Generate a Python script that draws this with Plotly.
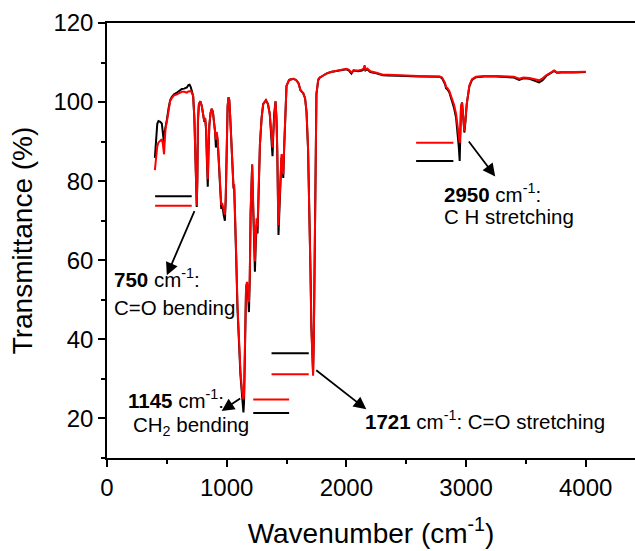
import plotly.graph_objects as go

# ---------------- data ----------------
wavenumber = [400, 410, 420, 430, 445, 458, 466, 472, 477, 482, 490, 500, 515, 528, 541, 560, 580, 600, 625, 645,
              667, 680, 690, 700, 710, 720, 730, 738, 744, 750, 755, 760, 768, 780, 792, 805, 813, 820, 828, 835,
              842, 848, 855, 865, 875, 885, 895, 903, 910, 917, 925, 935, 945, 955, 962, 968, 975, 985, 992, 1000,
              1008, 1015, 1022, 1030, 1040, 1050, 1057, 1063, 1070, 1080, 1090, 1100, 1115, 1128, 1135, 1140, 1145, 1150, 1156, 1162,
              1170, 1178, 1186, 1193, 1200, 1207, 1213, 1220, 1228, 1236, 1243, 1250, 1258, 1265, 1278, 1292, 1305, 1328, 1345, 1360,
              1370, 1378, 1383, 1390, 1397, 1408, 1416, 1423, 1429, 1433, 1440, 1450, 1458, 1463, 1468, 1473, 1480, 1487, 1500, 1522,
              1556, 1580, 1600, 1617, 1640, 1655, 1667, 1680, 1689, 1700, 1708, 1715, 1722, 1728, 1736, 1743, 1750, 1765, 1778, 1800,
              1833, 1870, 1900, 1950, 2000, 2020, 2042, 2060, 2100, 2130, 2145, 2153, 2160, 2175, 2200, 2250, 2305, 2350, 2400, 2500,
              2600, 2700, 2780, 2800, 2815, 2825, 2833, 2845, 2860, 2880, 2900, 2917, 2930, 2940, 2947, 2952, 2958, 2967, 2975, 2986,
              2995, 3006, 3028, 3050, 3083, 3150, 3250, 3350, 3400, 3444, 3480, 3530, 3580, 3611, 3640, 3670, 3700, 3736, 3760, 3800,
              3900, 4000]

t_black = [85.9, 90.5, 94.5, 95.2, 95.0, 94.6, 92.5, 90.0, 89.5, 92.5, 94.5, 95.5, 98.5, 100.5, 101.3, 102.0, 102.3, 102.8, 103.3, 103.4,
           103.7, 104.3, 104.4, 103.8, 102.8, 101.5, 96.0, 88.0, 80.0, 73.5, 80.0, 95.0, 99.5, 100.2, 99.0, 95.8, 95.0, 95.8, 93.0, 85.0,
           78.6, 87.0, 94.0, 97.2, 98.3, 97.5, 95.0, 92.5, 88.5, 92.0, 90.0, 84.0, 77.0, 73.0, 73.5, 73.0, 71.5, 70.0, 75.0, 90.0,
           99.0, 101.2, 100.5, 96.0, 88.0, 80.0, 78.3, 78.0, 72.0, 60.0, 48.0, 40.0, 31.0, 26.0, 23.0, 21.5, 24.0, 35.0, 48.0, 53.0,
           54.0, 52.0, 46.9, 55.0, 72.0, 82.0, 84.2, 75.0, 63.0, 57.1, 64.0, 69.0, 66.8, 75.0, 89.3, 96.0, 99.5, 100.5, 99.5, 97.0,
           93.0, 89.0, 86.3, 92.0, 97.0, 100.2, 96.0, 87.0, 72.0, 66.4, 72.0, 80.5, 86.0, 85.5, 82.0, 80.8, 88.0, 96.0, 104.1, 105.6,
           105.9, 105.6, 104.8, 103.0, 102.2, 101.0, 97.5, 88.0, 77.0, 58.0, 43.0, 34.0, 31.5, 40.0, 68.0, 92.0, 102.0, 105.5, 106.2, 106.6,
           107.2, 107.6, 107.8, 108.0, 108.3, 108.0, 107.2, 108.0, 107.8, 108.0, 108.3, 109.0, 108.0, 108.3, 107.6, 107.3, 106.8, 106.7, 106.7, 106.6,
           106.5, 106.5, 106.4, 106.0, 105.0, 104.5, 103.5, 103.2, 102.5, 100.5, 98.5, 96.0, 92.5, 88.5, 85.1, 90.0, 98.5, 99.9, 97.0, 92.3,
           95.0, 99.5, 104.0, 105.6, 106.3, 106.5, 106.5, 106.4, 106.2, 105.6, 106.0, 105.9, 105.3, 105.0, 105.5, 106.6, 107.2, 107.9, 107.4, 107.5,
           107.5, 107.6]

t_red = [82.8, 86.5, 88.8, 89.8, 90.3, 90.6, 89.5, 87.5, 86.8, 90.0, 93.5, 95.0, 98.2, 100.3, 101.0, 101.7, 101.9, 102.2, 102.6, 102.6,
         102.4, 102.7, 102.8, 102.8, 102.3, 101.5, 96.0, 88.0, 80.0, 73.8, 81.0, 96.0, 99.5, 100.2, 99.0, 95.8, 95.2, 96.0, 93.5, 86.0,
         80.5, 88.0, 94.0, 97.2, 98.3, 97.5, 95.0, 93.0, 90.5, 92.5, 90.5, 85.0, 78.0, 74.0, 74.5, 73.5, 72.5, 71.5, 76.0, 90.0,
         99.0, 101.2, 100.5, 96.0, 88.0, 80.5, 78.5, 79.2, 73.0, 61.0, 49.0, 41.0, 32.0, 27.0, 25.0, 24.8, 26.0, 36.0, 49.0, 53.5,
         54.5, 53.0, 49.4, 56.0, 72.0, 82.0, 84.2, 76.0, 65.0, 59.7, 66.0, 70.6, 68.5, 76.0, 89.3, 96.0, 99.5, 100.5, 99.5, 97.0,
         94.0, 90.5, 88.5, 93.0, 97.0, 100.2, 96.0, 88.0, 74.0, 68.9, 74.0, 81.5, 86.8, 86.5, 83.0, 81.7, 88.5, 96.0, 104.1, 105.6,
         105.9, 105.6, 104.8, 103.0, 102.2, 101.0, 97.8, 88.5, 76.6, 57.0, 42.6, 33.0, 30.8, 40.0, 68.0, 92.0, 102.0, 105.8, 106.2, 106.6,
         107.2, 107.6, 107.8, 108.2, 108.4, 108.2, 107.5, 108.0, 108.0, 108.2, 108.5, 109.3, 108.2, 108.5, 107.8, 107.4, 106.9, 106.9, 106.8, 106.7,
         106.6, 106.6, 106.5, 106.2, 105.3, 104.8, 103.8, 103.5, 102.8, 101.0, 99.3, 97.0, 93.8, 90.5, 89.7, 92.0, 99.0, 99.9, 97.0, 92.7,
         95.5, 99.5, 104.2, 105.8, 106.4, 106.6, 106.6, 106.5, 106.4, 105.9, 106.2, 106.1, 105.8, 105.5, 106.0, 106.8, 107.3, 108.0, 107.5, 107.6,
         107.6, 107.7]

# peak annotations: label lines, arrow tail/head, marker bars
peak_labels = [
    ["<b>750</b> cm<sup>-1</sup>:", "C=O bending"],
    ["<b>1145</b> cm<sup>-1</sup>:", "CH<sub>2</sub> bending"],
    ["<b>1721</b> cm<sup>-1</sup>: C=O stretching"],
    ["<b>2950</b> cm<sup>-1</sup>:", "C H stretching"],
]
label_x = [[38, 38], [158, 200], [2140], [2796, 2796]]
label_y = [[55.5, 48.0], [24.8, 18.0], [19.6], [77.0, 71.0]]
arrow_tail_x = [736, 1125, 1736, 3014]
arrow_tail_y = [72.8, 25.3, 32.5, 90.4]
arrow_head_x = [500, 958, 2167, 3244]
arrow_head_y = [56.2, 21.9, 22.3, 81.2]
bar_x0 = [402, 1222, 1375, 2583]
bar_x1 = [708, 1522, 1686, 2894]
bar_black_y = [76.2, 21.4, 36.5, 85.1]
bar_red_y = [73.8, 24.8, 31.2, 89.7]

FONT = "Liberation Sans, Arial, sans-serif"

fig = go.Figure()
fig.add_trace(go.Scatter(x=wavenumber, y=t_black, mode="lines",
                         line=dict(color="#000000", width=2), showlegend=False))
fig.add_trace(go.Scatter(x=wavenumber, y=t_red, mode="lines",
                         line=dict(color="#ff0000", width=2), showlegend=False))

annotations = []
for texts, xs, ys in zip(peak_labels, label_x, label_y):
    for t, x, y in zip(texts, xs, ys):
        annotations.append(dict(x=x, y=y, xref="x", yref="y", text=t, showarrow=False,
                                xanchor="left", yanchor="middle",
                                font=dict(family=FONT, size=20.5, color="#000")))
for tx, ty, hx, hy in zip(arrow_tail_x, arrow_tail_y, arrow_head_x, arrow_head_y):
    annotations.append(dict(x=hx, y=hy, ax=tx, ay=ty, xref="x", yref="y", axref="x", ayref="y",
                            text="", showarrow=True, arrowhead=2, arrowsize=1.4, arrowwidth=1.8,
                            arrowcolor="#000", standoff=0, startstandoff=0))

shapes = []
for x0, x1, yb, yr in zip(bar_x0, bar_x1, bar_black_y, bar_red_y):
    shapes.append(dict(type="line", xref="x", yref="y", x0=x0, x1=x1, y0=yb, y1=yb,
                       line=dict(color="#000", width=2)))
    shapes.append(dict(type="line", xref="x", yref="y", x0=x0, x1=x1, y0=yr, y1=yr,
                       line=dict(color="#ff0000", width=2)))

fig.update_layout(
    width=635, height=551,
    margin=dict(l=107, r=0, t=23, b=93, autoexpand=False),
    paper_bgcolor="white", plot_bgcolor="white",
    font=dict(family=FONT, color="#000"),
    annotations=annotations, shapes=shapes,
    xaxis=dict(range=[0, 4412], tickvals=[0, 1000, 2000, 3000, 4000],
               ticks="outside", ticklen=7, tickwidth=1.5, tickcolor="#000",
               minor=dict(dtick=500, tick0=0, ticks="outside", ticklen=4, tickwidth=1.5, tickcolor="#000"),
               showline=True, linecolor="#000", linewidth=1.5, mirror=True,
               showgrid=False, zeroline=False,
               tickfont=dict(family=FONT, size=24),
               title=dict(text="Wavenumber (cm<sup>-1</sup>)", font=dict(family=FONT, size=28), standoff=24)),
    yaxis=dict(range=[10, 120], tickvals=[20, 40, 60, 80, 100, 120],
               ticks="outside", ticklen=7, tickwidth=1.5, tickcolor="#000",
               minor=dict(dtick=10, tick0=0, ticks="outside", ticklen=4, tickwidth=1.5, tickcolor="#000"),
               showline=True, linecolor="#000", linewidth=1.5, mirror=False,
               showgrid=False, zeroline=False,
               tickfont=dict(family=FONT, size=24),
               title=dict(text="Transmittance (%)", font=dict(family=FONT, size=28), standoff=13)),
)

fig.write_html("out.html")
